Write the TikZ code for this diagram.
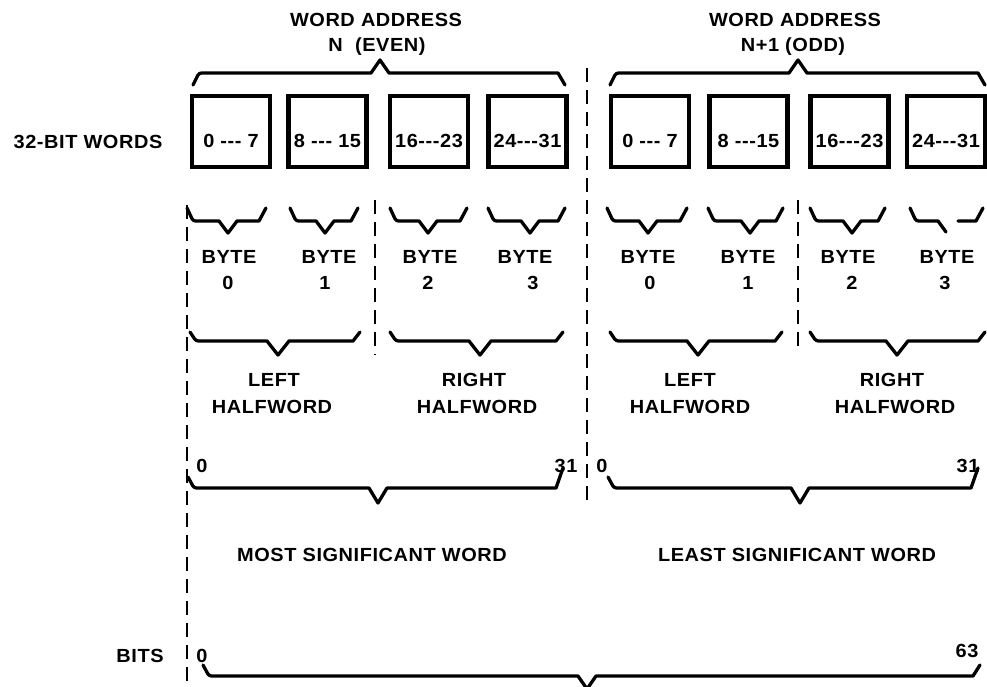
\documentclass[tikz,border=0pt]{standalone}
\usepackage{fontspec}
\setmainfont{Liberation Sans}[FakeStretch=1.05,LetterSpace=3]
\tikzset{
  lbl/.style={font=\fontsize{19}{22}\selectfont\bfseries, inner sep=0pt, anchor=base},
  bracestyle/.style={line width=3.3pt, line join=round, line cap=round},
  wbox/.style={draw, line width=4.2pt, minimum width=78pt, minimum height=71pt, inner sep=0pt},
  dline/.style={line width=2.8pt, dash pattern=on 14pt off 8pt}
}
% x1 x2 xm ytipL ytipR yline ypoint vhalf
\newcommand\mybrace[8]{%
  \draw[bracestyle] (#1,#4) [rounded corners=2.5pt] -- ({#1+6},#6) [sharp corners] -- ({#3-#8},#6) -- (#3,#7)
    -- ({#3+#8},#6) -- ({#2-7},#6) [rounded corners=2.5pt] -- (#2,#5);}
\begin{document}
\begin{tikzpicture}[x=1pt,y=-1pt]
\useasboundingbox (0,0) rectangle (987,686);
% titles
\node[lbl] (wa1) at (376,26) {WORD ADDRESS};
\node[lbl] (wa1b) at (377,51) {N\ \ (EVEN)};
\node[lbl] (wa2) at (795,26) {WORD ADDRESS};
\node[lbl] (wa2b) at (793,51) {N+1 (ODD)};
\node[lbl] (w32) at (88,148) {32-BIT WORDS};
% top braces
\mybrace{193}{565}{380}{85}{85}{73}{60}{9}
\mybrace{610}{985}{798}{85}{85}{73}{60}{9}
% boxes
\node[wbox] (b1) at (231,131.5) {};
\node[wbox] (b2) at (327.5,131.5) {};
\node[wbox] (b3) at (429,131.5) {};
\node[wbox] (b4) at (527.5,131.5) {};
\node[wbox] (b5) at (650,131.5) {};
\node[wbox] (b6) at (748.5,131.5) {};
\node[wbox] (b7) at (849.5,131.5) {};
\node[wbox] (b8) at (946,131.5) {};
\node[lbl] (t1) at (231,147) {0 {-}{-}{-} 7};
\node[lbl] (t2) at (327.5,147) {8 {-}{-}{-} 15};
\node[lbl] (t3) at (429,147) {16{-}{-}{-}23};
\node[lbl] (t4) at (527.5,147) {24{-}{-}{-}31};
\node[lbl] (t5) at (650,147) {0 {-}{-}{-} 7};
\node[lbl] (t6) at (748.5,147) {8 {-}{-}{-}15};
\node[lbl] (t7) at (849.5,147) {16{-}{-}{-}23};
\node[lbl] (t8) at (946,147) {24{-}{-}{-}31};
% dashed separators
\draw[dline] (187,205) -- (187,686);
\draw[dline] (587,68) -- (587,503);
\draw[dline] (375,200) -- (375,355);
\draw[dline] (798,200) -- (798,352);
% byte braces
\mybrace{187}{266}{228}{208}{208}{221}{233}{9}
\mybrace{290}{358}{325}{208}{208}{221}{233}{9}
\mybrace{390}{467}{428}{208}{208}{221}{233}{9}
\mybrace{488}{565}{530}{208}{208}{221}{233}{9}
\mybrace{607}{687}{648}{208}{208}{221}{233}{9}
\mybrace{708}{783}{750}{208}{208}{221}{233}{9}
\mybrace{810}{885}{852}{208}{208}{221}{233}{9}
\draw[bracestyle] (910,208) [rounded corners=2.5pt] -- (916,221) [sharp corners] -- (938,221) -- (946,232);
\draw[bracestyle] (958,221) -- (976,221) [rounded corners=2.5pt] -- (983,208);
% byte labels
\node[lbl] (y0) at (229,263) {BYTE}; \node[lbl] (d0) at (228,289) {0};
\node[lbl] (y1) at (329,263) {BYTE}; \node[lbl] (d1) at (325,289) {1};
\node[lbl] (y2) at (430,263) {BYTE}; \node[lbl] (d2) at (428,289) {2};
\node[lbl] (y3) at (525,263) {BYTE}; \node[lbl] (d3) at (533,289) {3};
\node[lbl] (y4) at (648,263) {BYTE}; \node[lbl] (d4) at (650,289) {0};
\node[lbl] (y5) at (748,263) {BYTE}; \node[lbl] (d5) at (748,289) {1};
\node[lbl] (y6) at (848,263) {BYTE}; \node[lbl] (d6) at (852,289) {2};
\node[lbl] (y7) at (947,263) {BYTE}; \node[lbl] (d7) at (945,289) {3};
% halfword braces
\mybrace{190}{360}{278}{332}{332}{341}{355}{11}
\mybrace{390}{563}{480}{332}{332}{341}{355}{11}
\mybrace{610}{782}{698}{332}{332}{341}{355}{11}
\mybrace{810}{985}{897}{332}{332}{341}{355}{11}
\node[lbl] (h1) at (274,386) {LEFT}; \node[lbl] (h1b) at (272,413) {HALFWORD};
\node[lbl] (h2) at (474,386) {RIGHT}; \node[lbl] (h2b) at (477,413) {HALFWORD};
\node[lbl] (h3) at (690,386) {LEFT}; \node[lbl] (h3b) at (690,413) {HALFWORD};
\node[lbl] (h4) at (892,386) {RIGHT}; \node[lbl] (h4b) at (895,413) {HALFWORD};
% word braces
\node[lbl] (n0a) at (202,472) {0};
\node[lbl] (n31a) at (566,472) {31};
\node[lbl] (n0b) at (602,472) {0};
\node[lbl] (n31b) at (968,472) {31};
\mybrace{188}{563}{378}{477}{468}{488}{503}{9}
\mybrace{608}{978}{800}{477}{468}{488}{503}{9}
\node[lbl] (msw) at (372,561) {MOST SIGNIFICANT WORD};
\node[lbl] (lsw) at (797,561) {LEAST SIGNIFICANT WORD};
% bits
\node[lbl] (bits) at (140,662) {BITS};
\node[lbl] (z0) at (202,662) {0};
\node[lbl] (z63) at (967,657) {63};
\mybrace{203}{980}{587}{665}{665}{676}{689}{9}
\end{tikzpicture}
\end{document}
